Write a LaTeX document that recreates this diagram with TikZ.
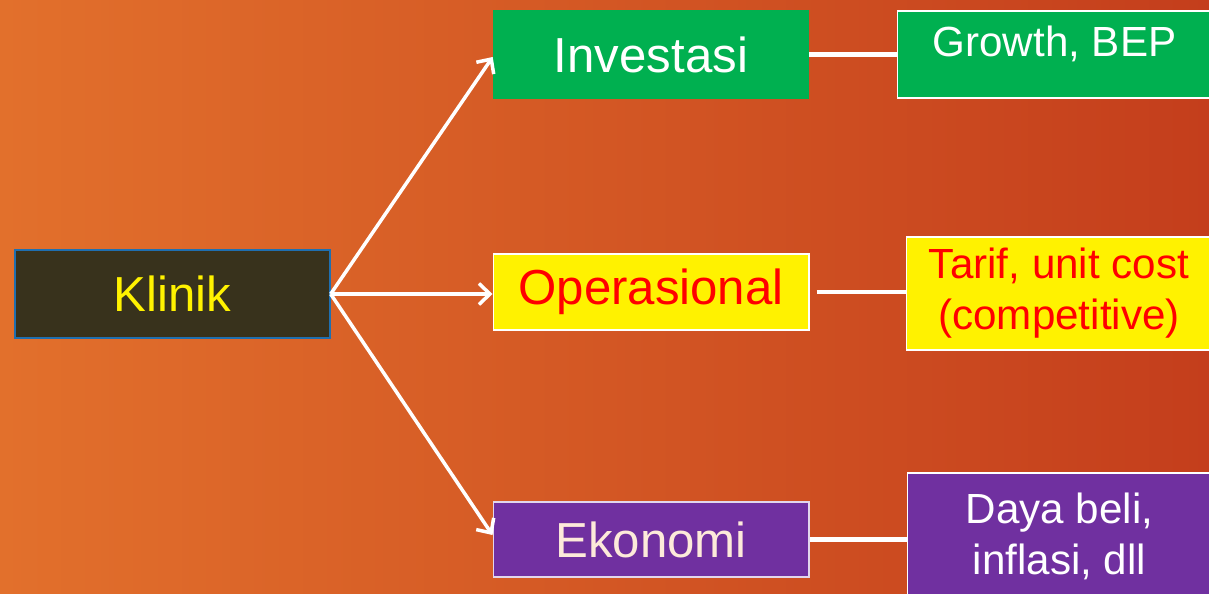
\documentclass[tikz,border=0pt]{standalone}
\usepackage{fontspec}
\setmainfont{Liberation Sans}
\usetikzlibrary{arrows.meta}

\definecolor{bgleft}{HTML}{E2702C}
\definecolor{bgright}{HTML}{C43E1C}
\definecolor{kldark}{HTML}{38321C}
\definecolor{klblue}{HTML}{1F6FB0}
\definecolor{invgreen}{HTML}{00B050}
\definecolor{ekopurple}{HTML}{7030A0}
\definecolor{ekocream}{HTML}{FDEADA}

\begin{document}
\begin{tikzpicture}[x=0.02cm,y=-0.02cm]

\tikzstyle{cell}=[rectangle,inner sep=0pt,align=center,minimum width=6.32cm]
\tikzstyle{side}=[rectangle,draw=white,line width=0.6pt,inner sep=0pt,align=center,font=\fontsize{24}{29}\selectfont]
\tikzstyle{link}=[draw=white,line width=2pt]

% background
\useasboundingbox (0,0) rectangle (1209,594);
\clip (0,0) rectangle (1209,594);
\shade[left color=bgleft,right color=bgright] (0,0) rectangle (1209,594);

\node[cell,fill=kldark,draw=klblue,line width=0.8pt,minimum width=6.3cm,minimum height=1.76cm,
      text=yellow,font=\fontsize{28}{34}\selectfont] (klinik) at (172.5,294) {Klinik} ;

\node[cell,fill=invgreen,minimum height=1.78cm,text=white,
      font=\fontsize{28}{34}\selectfont] (inv) at (651,54.5) {Investasi} ;
\node[cell,fill=yellow,draw=white,line width=0.6pt,minimum height=1.52cm,text=red,
      font=\fontsize{28}{34}\selectfont] (ops) at (651,292) {Operasional} ;
\node[cell,fill=ekopurple,draw=white!80!ekopurple,line width=0.6pt,minimum height=1.5cm,text=ekocream,
      font=\fontsize{28}{34}\selectfont] (eko) at (651,539.5) {Ekonomi} ;

\node[side,fill=invgreen,text=white,minimum width=6.3cm,minimum height=1.74cm,
      text depth=0.6cm,text height=0.7cm] (c1) at (1054.5,54.5) {Growth, BEP} ;
\node[side,fill=yellow,text=red,minimum width=6.12cm,minimum height=2.26cm] (c2) at (1059,293.5) {Tarif, unit cost\\(competitive)} ;
\node[side,fill=ekopurple,text=white,minimum width=6.1cm,minimum height=2.54cm] (c3) at (1059.5,536.5) {Daya beli,\\inflasi, dll} ;

\draw [link,-{Straight Barb[length=2.2mm,width=4.2mm]}] (klinik.east) -- (inv.west |- 0,57);
\draw [link,-{Straight Barb[length=2.2mm,width=4.2mm]}] (klinik.east) -- (ops.west |- klinik.east);
\draw [link,-{Straight Barb[length=2.2mm,width=4.2mm]}] (klinik.east) -- (eko.west |- 0,535);

\draw [link,line width=2.4pt] (inv.east) -- (c1.west);
\draw [link,line width=2.4pt] (ops.east) ++(7,0) -- (c2.west |- ops.east);
\draw [link,line width=2.4pt] (eko.east) -- (c3.west |- eko.east);

\end{tikzpicture}
\end{document}
